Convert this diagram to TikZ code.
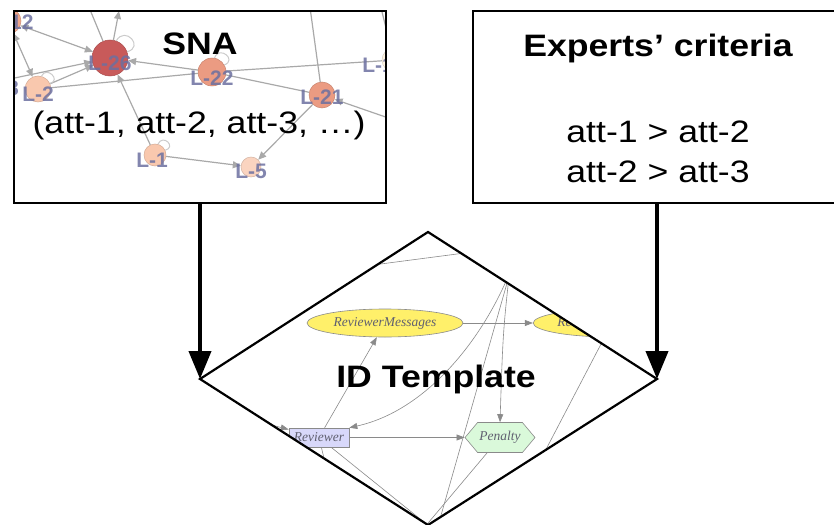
\documentclass[tikz,border=0pt]{standalone}
\usepackage{fontspec}
\newfontfamily\helv{Liberation Sans}
\newfontfamily\tms{Liberation Serif}
\usetikzlibrary{arrows.meta,shapes.geometric,shapes.symbols,positioning}

\definecolor{tiegrey}{HTML}{A9A9A9}
\definecolor{namegrey}{HTML}{6C70A0}
\definecolor{hotnode}{HTML}{C85A5A}
\definecolor{midnode}{HTML}{EB9B82}
\definecolor{warmnode}{HTML}{F0A68A}
\definecolor{lownode}{HTML}{F9C8AE}
\definecolor{palenode}{HTML}{FAD4C0}
\definecolor{creamnode}{HTML}{FDF3E2}
\definecolor{chanceyellow}{HTML}{FFF06A}
\definecolor{decisionblue}{HTML}{D8D8FA}
\definecolor{utilitygreen}{HTML}{DAF9DA}
\definecolor{idgrey}{HTML}{8A8A8A}
\definecolor{idtext}{HTML}{606070}

\newcommand{\wider}[1]{\scalebox{1.15}[1]{#1}}

\tikzset{
  panelarea/.style={inner sep=0pt, minimum width=372pt, minimum height=192pt},
  frame/.style={line width=2pt},
  bigtitle/.style={font=\helv\bfseries\fontsize{31}{36}\selectfont, inner sep=0pt, anchor=base},
  bigline/.style={font=\helv\fontsize{31}{36}\selectfont, inner sep=0pt, anchor=base},
  flow/.style={line width=4pt, -{Triangle[width=22pt,length=28pt]}},
  person/.style={circle, inner sep=0pt, draw=#1!85!black, fill=#1, line width=0.5pt},
  pname/.style={text=namegrey, text opacity=0.85, font=\helv\bfseries\fontsize{21}{21}\selectfont, inner sep=0pt},
  tie/.style={draw=tiegrey, line width=1.2pt},
  tiearrow/.style={tie, -{Triangle[length=8pt,width=7pt]}},
  loopline/.style={draw=tiegrey!60, line width=1pt},
  idnode/.style={draw=idgrey, line width=0.6pt, text=idtext, font=\tms\itshape\fontsize{13.5}{14}\selectfont, inner sep=1pt},
  chance/.style={idnode, ellipse, fill=chanceyellow, minimum width=156pt, minimum height=28pt},
  decision/.style={idnode, rectangle, fill=decisionblue, minimum width=60pt, minimum height=19pt},
  utility/.style={idnode, signal, signal to=east and west, signal pointer angle=100, fill=utilitygreen, minimum width=70pt, minimum height=30pt},
  idline/.style={draw=idgrey, line width=0.6pt},
  idarrow/.style={idline, -{Triangle[length=8pt,width=6pt]}}
}

\begin{document}
\begin{tikzpicture}[x=1pt, y=-1pt]
\useasboundingbox (0,0) rectangle (834,524);

% the two panels
\node[panelarea] (snabox) at (200,107) {};
\node[panelarea, minimum width=368pt] (expbox) at (657,107) {};

% network behind SNA
\begin{scope}
  \clip (snabox.north west) rectangle (snabox.south east);
  \node[person=hotnode, minimum size=36pt] (l26) at (110,58) {};
  \node[person=midnode, minimum size=28pt] (l22) at (212,72) {};
  \node[person=midnode, minimum size=26pt] (l21) at (322,95) {};
  \node[person=lownode, minimum size=26pt] (l2) at (38,89) {};
  \node[person=lownode, minimum size=22pt] (l1) at (155,155) {};
  \node[person=palenode, minimum size=20pt] (l5) at (251,167) {};
  \node[person=warmnode, minimum size=26pt] (l12) at (8,21) {};
  \node[person=creamnode, minimum size=24pt] (l19) at (394,60) {};
  \node[person=lownode, minimum size=24pt] (l8) at (-14,84) {};
  \coordinate (topa) at (119,11);
  \coordinate (topb) at (86,0);
  \coordinate (topc) at (309,0);
  \coordinate (topd) at (379,0);
  \coordinate (rightend) at (400,122);

  \draw[tie, {Triangle[length=8pt,width=7pt]}-{Triangle[length=8pt,width=7pt]}] (l12) -- (l26);
  \draw[tie, {Triangle[length=8pt,width=7pt]}-{Triangle[length=8pt,width=7pt]}] (l12) -- (l2);
  \draw[tiearrow] (l2) -- (l26);
  \draw[tiearrow] (l8) -- (l26);
  \draw[tie] (l2) -- (l22);
  \draw[tiearrow] (l22) -- (l26);
  \draw[tiearrow] (l26) -- (topa);
  \draw[tie] (l26) -- (topb);
  \draw[tiearrow] (l1) -- (l26);
  \draw[tiearrow] (l1) -- (l5);
  \draw[tiearrow] (l21) -- (l5);
  \draw[tie] (l22) -- (l21);
  \draw[tie] (l22) -- (l19);
  \draw[tiearrow] (rightend) -- (l21);
  \draw[tie] (l21) -- (topc);
  \draw[tie] (topd) -- (l19);

  \draw[loopline] (l26.70) .. controls +(60:18pt) and +(15:18pt) .. (l26.20);
  \draw[loopline] (l22.80) .. controls +(70:14pt) and +(20:14pt) .. (l22.30);
  \draw[loopline] (l1.75) .. controls +(65:12pt) and +(15:12pt) .. (l1.25);
  \draw[loopline] (l2.75) .. controls +(65:12pt) and +(15:12pt) .. (l2.25);

  \node[pname] (l26t) at ([yshift=-5pt]l26) {L-26};
  \node[pname] (l22t) at ([yshift=-6pt]l22) {L-22};
  \node[pname] (l21t) at ([yshift=-2pt]l21) {L-21};
  \node[pname] (l2t) at ([yshift=-5pt]l2) {L-2};
  \node[pname] (l1t) at ([xshift=-3pt,yshift=-5pt]l1) {L-1};
  \node[pname] (l5t) at ([yshift=-4pt]l5) {L-5};
  \node[pname] (l12t) at (12,22) {L-12};
  \node[pname] (l19t) at (384,65) {L-19};
  \node[pname] (l8t) at (3,88) {L-8};
\end{scope}
\draw[frame] (snabox.north west) rectangle (snabox.south east);
\draw[frame] (expbox.north west) rectangle (expbox.south east);

\node[bigtitle] (snatitle) at (200,55) {\wider{SNA}};
\node[bigline] (snaatts) at (199,133) {\wider{(att-1, att-2, att-3, …)}};
\node[bigtitle] (exptitle) at (658,57) {\wider{Experts’ criteria}};
\node[bigline] (exprule1) at (658,142) {\wider{att-1 > att-2}};
\node[bigline] (exprule2) at (658,182) {\wider{att-2 > att-3}};

% diamond corners
\coordinate (dtop) at (428,232);
\coordinate (dright) at (657,379);
\coordinate (dbottom) at (428,525);
\coordinate (dleft) at (200,379);

% influence diagram behind the template
\begin{scope}
  \clip (dtop) -- (dright) -- (dbottom) -- (dleft) -- cycle;
  \node[chance] (revmsg) at (385,323) {ReviewerMessages};
  \node[chance] (revrep) at (612,323) {ReviewerReputation};
  \node[decision] (reviewer) at (319,437.5) {Reviewer};
  \node[utility] (penalty) at (500,437.5) {Penalty};
  \coordinate (farA) at (518,250);
  \coordinate (farB) at (512,250);
  \coordinate (farC) at (515,255);
  \coordinate (farD) at (434,540);
  \coordinate (farE) at (418,535);
  \coordinate (farF) at (440,535);
  \coordinate (farG) at (328,475);
  \coordinate (farH) at (230,414);
  \coordinate (farI) at (530,480);
  \coordinate (farJ) at (350,268);
  \coordinate (farK) at (480,251);

  \draw[idarrow] (revmsg) -- (revrep);
  \draw[idarrow] (reviewer) -- (penalty);
  \draw[idarrow] (reviewer) -- (revmsg);
  \draw[idarrow] (farA) .. controls (492,330) and (430,410) .. (reviewer.north east);
  \draw[idarrow] (farB) .. controls (503,330) .. (penalty.north);
  \draw[idline] (farC) -- (farD);
  \draw[idline] (penalty) -- (farE);
  \draw[idline] (reviewer) -- (farF);
  \draw[idline] (reviewer) -- (farG);
  \draw[idarrow] (farH) -- (reviewer);
  \draw[idline] (revrep) -- (farI);
  \draw[idline] (farJ) -- (farK);
\end{scope}
\draw[line width=2.2pt, line join=miter] (dtop) -- (dright) -- (dbottom) -- (dleft) -- cycle;
\node[bigtitle] (idtitle) at (436,387) {\wider{ID Template}};

% flows into the template
\draw[flow] (snabox.south) -- (dleft);
\draw[flow] (expbox.south) -- (dright);
\end{tikzpicture}
\end{document}
